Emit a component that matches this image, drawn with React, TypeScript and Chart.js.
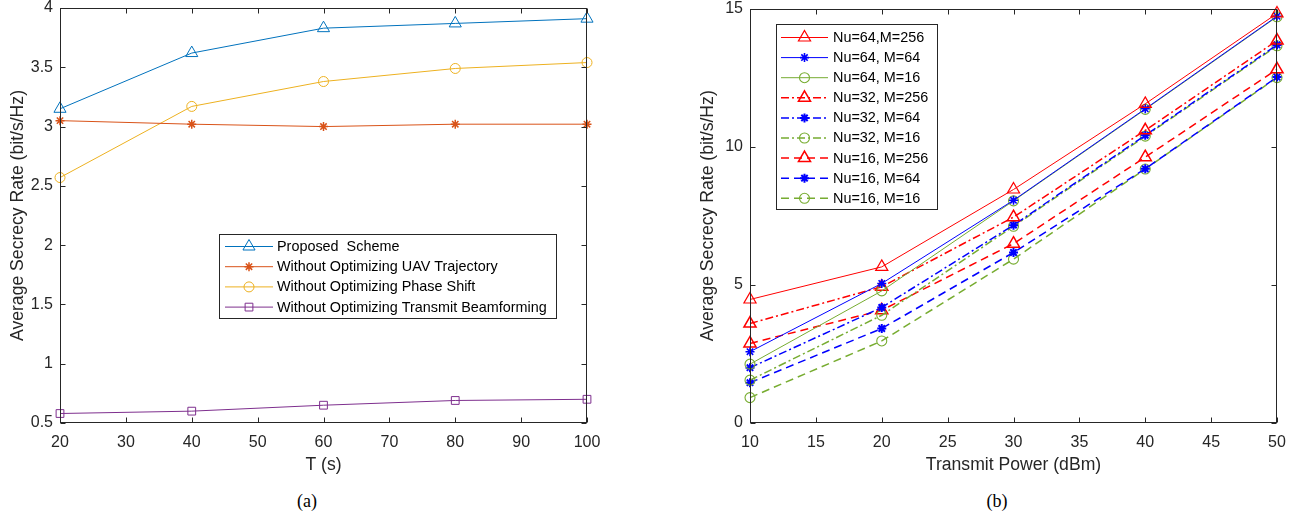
import React, { useEffect, useRef } from 'react';
import { Chart, registerables } from 'chart.js';
import * as helpers from 'chart.js/helpers';

Chart.register(...registerables);

const FONT = '"Liberation Sans", Arial, Helvetica, sans-serif';
const AXIS = '#262626';

// ---------- (a) data ----------
const timeT = [20, 40, 60, 80, 100];
const proposedScheme = [3.15, 3.62, 3.83, 3.87, 3.91];
const withoutTrajectory = [3.05, 3.02, 3.0, 3.02, 3.02];
const withoutPhaseShift = [2.57, 3.17, 3.38, 3.49, 3.54];
const withoutBeamforming = [0.58, 0.6, 0.65, 0.69, 0.7];
const labelsA = [
  'Proposed  Scheme',
  'Without Optimizing UAV Trajectory',
  'Without Optimizing Phase Shift',
  'Without Optimizing Transmit Beamforming',
];

// ---------- (b) data ----------
const transmitPower = [10, 20, 30, 40, 50];
const nu64m256 = [4.47, 5.65, 8.45, 11.55, 14.82];
const nu64m64 = [2.58, 5.05, 8.06, 11.37, 14.72];
const nu64m16 = [2.13, 4.78, 8.04, 11.35, 14.7];
const nu32m256 = [3.6, 4.93, 7.45, 10.59, 13.84];
const nu32m64 = [2.0, 4.18, 7.16, 10.41, 13.68];
const nu32m16 = [1.55, 3.9, 7.12, 10.38, 13.65];
const nu16m256 = [2.88, 4.08, 6.49, 9.62, 12.8];
const nu16m64 = [1.46, 3.42, 6.17, 9.2, 12.52];
const nu16m16 = [0.92, 2.97, 5.93, 9.19, 12.5];
const labelsB = [
  'Nu=64,M=256',
  'Nu=64, M=64',
  'Nu=64, M=16',
  'Nu=32, M=256',
  'Nu=32, M=64',
  'Nu=32, M=16',
  'Nu=16, M=256',
  'Nu=16, M=64',
  'Nu=16, M=16',
];

const RED = '#FF0000';
const BLUE = '#0000FF';
const GREEN = '#77AC30';
const DASH = [8, 5];
const DASHDOT = [8, 3, 2, 3];

const framePlugin = {
  id: 'frameAndLegend',
  afterDatasetsDraw(chart: any, _args: any, opts: any) {
    const ctx = chart.ctx as CanvasRenderingContext2D;
    const { left, right, top, bottom } = chart.chartArea;
    const L = Math.round(left) + 0.5;
    const R = Math.round(right) - 0.5;
    const T = Math.round(top) + 0.5;
    const B = Math.round(bottom) - 0.5;
    ctx.save();
    ctx.setLineDash([]);
    ctx.strokeStyle = AXIS;
    ctx.lineWidth = 1;
    ctx.strokeRect(L, T, R - L, B - T);
    const tk = 5;
    const xs = chart.scales.x;
    const ys = chart.scales.y;
    ctx.beginPath();
    xs.ticks.forEach((t: any) => {
      const p = Math.round(xs.getPixelForValue(t.value)) + 0.5;
      ctx.moveTo(p, B);
      ctx.lineTo(p, B - tk);
      ctx.moveTo(p, T);
      ctx.lineTo(p, T + tk);
    });
    ys.ticks.forEach((t: any) => {
      const p = Math.round(ys.getPixelForValue(t.value)) + 0.5;
      ctx.moveTo(L, p);
      ctx.lineTo(L + tk, p);
      ctx.moveTo(R, p);
      ctx.lineTo(R - tk, p);
    });
    ctx.stroke();

    // legend
    const lg = opts && opts.legend;
    if (lg) {
      ctx.fillStyle = '#ffffff';
      ctx.fillRect(lg.x, lg.y, lg.w, lg.h);
      ctx.strokeStyle = AXIS;
      ctx.lineWidth = 1;
      ctx.strokeRect(lg.x + 0.5, lg.y + 0.5, lg.w, lg.h);
      chart.data.datasets.forEach((ds: any, i: number) => {
        const y = lg.y0 + lg.dy * i;
        ctx.save();
        ctx.strokeStyle = ds.borderColor;
        ctx.lineWidth = ds.borderWidth;
        ctx.setLineDash(ds.borderDash || []);
        ctx.beginPath();
        ctx.moveTo(lg.x1, y);
        ctx.lineTo(lg.x2, y);
        ctx.stroke();
        ctx.setLineDash([]);
        ctx.lineWidth = ds.pointBorderWidth;
        ctx.fillStyle = 'rgba(0,0,0,0)';
        helpers.drawPoint(
          ctx,
          { pointStyle: ds.pointStyle, radius: ds.pointRadius, borderWidth: ds.pointBorderWidth, rotation: 0 } as any,
          (lg.x1 + lg.x2) / 2,
          y
        );
        ctx.restore();
        ctx.fillStyle = '#000000';
        ctx.font = `${lg.fontSize}px ${FONT}`;
        ctx.textBaseline = 'middle';
        ctx.textAlign = 'left';
        ctx.fillText(ds.label, lg.tx, y + 0.5);
      });
    }
    ctx.restore();
  },
};

function series(label: string, data: number[], color: string, style: string, radius: number, dash: number[] | undefined, width: number, pbw: number) {
  return {
    label,
    data,
    borderColor: color,
    backgroundColor: color,
    borderWidth: width,
    borderDash: dash || [],
    pointStyle: style,
    pointRadius: radius,
    pointHoverRadius: radius,
    pointBorderColor: color,
    pointBackgroundColor: 'rgba(0,0,0,0)',
    pointBorderWidth: pbw,
    tension: 0,
    clip: false as any,
  };
}

const fmt = (v: any) => `${+Number(v).toFixed(2)}`;

function axes(xTitle: string, xMin: number, xMax: number, xStep: number, yMin: number, yMax: number, yStep: number) {
  const tickFont = { size: 16, family: FONT, lineHeight: 1 };
  const titleFont = { size: 17.6, family: FONT, lineHeight: 1.2 };
  return {
    x: {
      type: 'linear',
      min: xMin,
      max: xMax,
      grid: { display: false, drawTicks: false },
      border: { display: false },
      ticks: { stepSize: xStep, font: tickFont, color: AXIS, padding: 12, maxRotation: 0, callback: fmt },
      title: { display: true, text: xTitle, font: titleFont, color: AXIS, padding: { top: 0, bottom: 4 } },
      afterFit: (s: any) => {
        s.height = 57;
        s.paddingLeft = 0;
        s.paddingRight = 0;
      },
    },
    y: {
      type: 'linear',
      min: yMin,
      max: yMax,
      grid: { display: false, drawTicks: false },
      border: { display: false },
      ticks: { stepSize: yStep, font: tickFont, color: AXIS, padding: 7, callback: fmt },
      title: { display: true, text: 'Average Secrecy Rate (bit/s/Hz)', font: titleFont, color: AXIS, padding: { top: 8, bottom: 0 } },
      afterFit: (s: any) => {
        s.width = 60;
        s.paddingTop = 0;
        s.paddingBottom = 0;
      },
    },
  };
}

function configA(): any {
  return {
    type: 'line',
    data: {
      datasets: [
        series(labelsA[0], proposedScheme, '#0072BD', 'triangle', 7, undefined, 1, 1),
        series(labelsA[1], withoutTrajectory, '#D95319', 'star', 4.5, undefined, 1, 1.5),
        series(labelsA[2], withoutPhaseShift, '#EDB120', 'circle', 5, undefined, 1, 1),
        series(labelsA[3], withoutBeamforming, '#7E2F8E', 'rect', 5.5, undefined, 1, 1),
      ].map((d) => ({ ...d, data: d.data.map((v: number, k: number) => ({ x: timeT[k], y: v })) })),
    },
    options: {
      responsive: false,
      animation: false,
      events: [],
      layout: { padding: { left: 0, top: 8, right: 23, bottom: 0 } },
      scales: axes('T (s)', 20, 100, 10, 0.5, 4, 0.5),
      plugins: {
        legend: { display: false },
        tooltip: { enabled: false },
        frameAndLegend: {
          legend: { x: 219, y: 234, w: 337, h: 84, y0: 246.5, dy: 20.2, x1: 225, x2: 273, tx: 277, fontSize: 14.4 },
        },
      },
    },
    plugins: [framePlugin],
  };
}

function configB(): any {
  const raw = [
    series(labelsB[0], nu64m256, RED, 'triangle', 7, undefined, 1, 1.2),
    series(labelsB[1], nu64m64, BLUE, 'star', 4.5, undefined, 1, 1.6),
    series(labelsB[2], nu64m16, GREEN, 'circle', 5, undefined, 1, 1.1),
    series(labelsB[3], nu32m256, RED, 'triangle', 7, DASHDOT, 1.5, 1.5),
    series(labelsB[4], nu32m64, BLUE, 'star', 4.5, DASHDOT, 1.5, 2),
    series(labelsB[5], nu32m16, GREEN, 'circle', 5, DASHDOT, 1.5, 1.1),
    series(labelsB[6], nu16m256, RED, 'triangle', 7, DASH, 1.5, 1.5),
    series(labelsB[7], nu16m64, BLUE, 'star', 4.5, DASH, 1.5, 2),
    series(labelsB[8], nu16m16, GREEN, 'circle', 5, DASH, 1.5, 1.1),
  ];
  return {
    type: 'line',
    data: {
      datasets: raw.map((d) => ({ ...d, data: d.data.map((v: number, k: number) => ({ x: transmitPower[k], y: v })) })),
    },
    options: {
      responsive: false,
      animation: false,
      events: [],
      layout: { padding: { left: 0, top: 8, right: 23, bottom: 0 } },
      scales: axes('Transmit Power (dBm)', 10, 50, 5, 0, 15, 5),
      plugins: {
        legend: { display: false },
        tooltip: { enabled: false },
        frameAndLegend: {
          legend: { x: 86, y: 24, w: 161, h: 185, y0: 37.5, dy: 20.1, x1: 91, x2: 138, tx: 143, fontSize: 14.4 },
        },
      },
    },
    plugins: [framePlugin],
  };
}

function ChartBox({ make, left }: { make: () => any; left: number }) {
  const ref = useRef<HTMLCanvasElement>(null);
  useEffect(() => {
    const c = new Chart(ref.current as HTMLCanvasElement, make());
    return () => c.destroy();
  }, []);
  return (
    <canvas
      ref={ref}
      width={610}
      height={480}
      style={{ position: 'absolute', left, top: 0, width: 610, height: 480 }}
    />
  );
}

const captionStyle: React.CSSProperties = {
  position: 'absolute',
  top: 491,
  width: 100,
  textAlign: 'center',
  fontFamily: '"Liberation Serif", "Times New Roman", serif',
  fontSize: 18,
  lineHeight: '20px',
  color: '#000',
};

export default function App() {
  return (
    <div style={{ position: 'absolute', left: 0, top: 0, width: 1302, height: 518, background: '#fff', overflow: 'hidden' }}>
      <ChartBox make={configA} left={0} />
      <ChartBox make={configB} left={690} />
      <div style={{ ...captionStyle, left: 257 }}>(a)</div>
      <div style={{ ...captionStyle, left: 947 }}>(b)</div>
    </div>
  );
}
